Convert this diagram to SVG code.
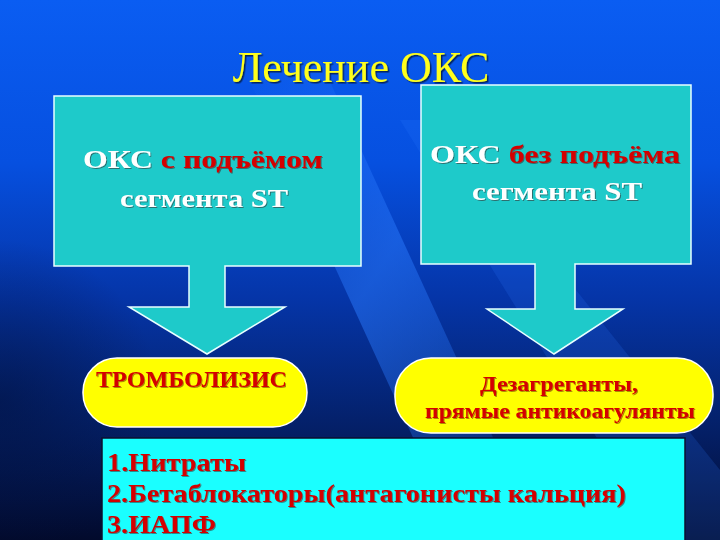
<svg xmlns="http://www.w3.org/2000/svg" width="720" height="540" viewBox="0 0 720 540">
<defs>
<linearGradient id="bg" x1="0" y1="0" x2="0" y2="1">
<stop offset="0" stop-color="#0a5df2"/>
<stop offset="0.3" stop-color="#0650e0"/>
<stop offset="0.55" stop-color="#0535a8"/>
<stop offset="0.8" stop-color="#041f66"/>
<stop offset="1" stop-color="#020a2c"/>
</linearGradient>
<linearGradient id="band" x1="0" y1="0" x2="1" y2="1">
<stop offset="0" stop-color="#2a7bff" stop-opacity="0"/>
<stop offset="0.45" stop-color="#2a7bff" stop-opacity="0.5"/>
<stop offset="1" stop-color="#2a7bff" stop-opacity="0.05"/>
</linearGradient>
<radialGradient id="leftdark" cx="0" cy="400" r="160" gradientUnits="userSpaceOnUse">
<stop offset="0" stop-color="#01103a" stop-opacity="0.55"/>
<stop offset="1" stop-color="#01103a" stop-opacity="0"/>
</radialGradient>
<filter id="sh" x="-10%" y="-20%" width="130%" height="150%">
<feDropShadow dx="1.5" dy="1.5" stdDeviation="0.4" flood-color="#000" flood-opacity="0.6"/>
</filter>
<filter id="shr" x="-10%" y="-20%" width="130%" height="150%">
<feDropShadow dx="1" dy="1" stdDeviation="0.3" flood-color="#400000" flood-opacity="0.45"/>
</filter>
</defs>
<style>
.box{fill:#1ecaca;stroke:#e8ffff;stroke-width:1.5}
.pill{fill:#ffff00;stroke:#ffffff;stroke-width:1.5}
.t{font-family:"Liberation Serif","Times New Roman",serif;font-weight:bold}
.w{fill:#ffffff}
.r{fill:#d40000}
.title{font-family:"Liberation Serif","Times New Roman",serif;font-size:44px;fill:#ffff1a}
</style>
<rect width="720" height="540" fill="url(#bg)"/>
<rect x="0" y="200" width="180" height="340" fill="url(#leftdark)"/>
<polygon points="240,60 320,60 540,540 460,540" fill="url(#band)"/>
<polygon points="400,120 440,120 720,470 720,540 660,540" fill="#2a7bff" opacity="0.18"/>
<g id="title"><text class="title" x="361" y="82" text-anchor="middle" filter="url(#sh)">Лечение ОКС</text></g>
<g id="box1">
<path class="box" d="M54,96 H361 V266 H225 V307 H285 L207,354 L129,307 H189 V266 H54 Z"/>
<text class="t" font-size="26" x="203" y="168" text-anchor="middle" textLength="240" lengthAdjust="spacingAndGlyphs" filter="url(#shr)"><tspan class="w">ОКС </tspan><tspan class="r">с подъёмом</tspan></text>
<text class="t w" font-size="26" x="204" y="207" text-anchor="middle" textLength="168" lengthAdjust="spacingAndGlyphs" filter="url(#shr)">сегмента ST</text>
</g>
<g id="box2">
<path class="box" d="M421,85 H691 V264 H575 V309 H623 L554,354 L487,309 H535 V264 H421 Z"/>
<text class="t" font-size="26" x="555" y="163" text-anchor="middle" textLength="250" lengthAdjust="spacingAndGlyphs" filter="url(#shr)"><tspan class="w">ОКС </tspan><tspan class="r">без подъёма</tspan></text>
<text class="t w" font-size="26" x="557" y="200" text-anchor="middle" textLength="170" lengthAdjust="spacingAndGlyphs" filter="url(#shr)">сегмента ST</text>
</g>
<g id="pill1">
<rect class="pill" x="83" y="358" width="224" height="69" rx="34" ry="34"/>
<text class="t r" font-size="23" x="96" y="387" textLength="191" lengthAdjust="spacingAndGlyphs" filter="url(#shr)">ТРОМБОЛИЗИС</text>
</g>
<g id="pill2">
<rect class="pill" x="395" y="358" width="318" height="75" rx="36" ry="36"/>
<text class="t r" font-size="22" x="559" y="391" text-anchor="middle" textLength="158" lengthAdjust="spacingAndGlyphs" filter="url(#shr)">Дезагреганты,</text>
<text class="t r" font-size="22" x="560" y="418" text-anchor="middle" textLength="270" lengthAdjust="spacingAndGlyphs" filter="url(#shr)">прямые антикоагулянты</text>
</g>
<g id="list">
<rect x="102" y="438" width="583" height="110" fill="#1affff" stroke="#0a1030" stroke-width="1.5"/>
<text class="t r" font-size="26" x="107" y="471" textLength="139" lengthAdjust="spacingAndGlyphs" filter="url(#shr)">1.Нитраты</text>
<text class="t r" font-size="26" x="107" y="502" textLength="519" lengthAdjust="spacingAndGlyphs" filter="url(#shr)">2.Бетаблокаторы(антагонисты кальция)</text>
<text class="t r" font-size="26" x="107" y="533" textLength="109" lengthAdjust="spacingAndGlyphs" filter="url(#shr)">3.ИАПФ</text>
</g>
</svg>
